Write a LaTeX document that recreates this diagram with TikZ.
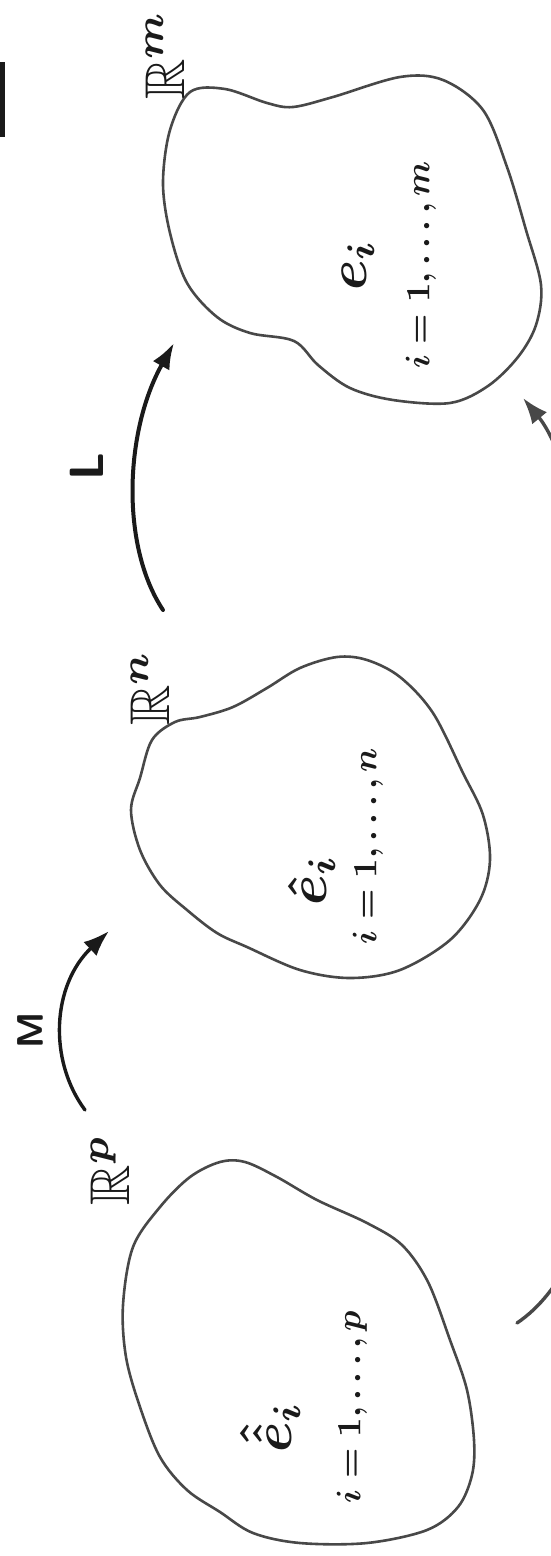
\documentclass[tikz,border=0pt]{standalone}
\usepackage{amsmath,amssymb}
\usetikzlibrary{arrows.meta}
\definecolor{blobgray}{HTML}{484848}
\definecolor{ink}{HTML}{1A1A1A}
\tikzset{
  blob/.style={draw=blobgray, line width=2.6pt},
  maparrow/.style={draw=ink, line width=4pt, line cap=round, -{Latex[length=26pt,width=19pt]}},
  lbl/.style={rotate=90, text=ink, inner sep=0pt, font=\boldmath},
}
\begin{document}
\begin{tikzpicture}[x=1pt,y=-1pt]
\useasboundingbox (0,0) rectangle (551,1556);
\clip (0,0) rectangle (551,1556);
\fill[white] (0,0) rectangle (551,1556);

% fragment at the left edge
\draw[ink, line width=5pt] (2,62) -- (2,137);

% blob R^m
\draw[blob] plot[smooth cycle, tension=0.55] coordinates {
 (190,92) (225,89) (267,103) (293,107) (333,97) (400,77) (443,80) (483,110)
 (507,167) (526,230) (541,285) (536,325) (518,357) (488,386) (450,403)
 (393,400) (350,388) (318,365) (294,341) (250,333) (217,317) (187,283)
 (170,233) (163,183) (170,130)};
% blob R^n
\draw[blob] plot[smooth cycle, tension=0.55] coordinates {
 (140,778) (152,740) (175,722) (200,717) (233,707) (267,688) (300,668)
 (337,657) (367,660) (400,677) (433,713) (463,773) (483,815) (490,860)
 (480,900) (450,940) (400,970) (350,978) (300,970) (247,947)
 (217,933) (187,910) (160,885) (140,850) (131,810)};
% blob R^p
\draw[blob] plot[smooth cycle, tension=0.55] coordinates {
 (133,1247) (160,1207) (190,1177) (220,1162) (245,1162) (277,1177) (317,1200)
 (367,1223) (402,1245) (428,1282) (450,1340) (467,1390) (474,1440) (472,1475)
 (458,1507) (427,1530) (367,1543) (300,1543) (253,1533) (220,1512)
 (187,1490) (160,1457) (140,1407) (126,1357) (123,1305)};

% labels of the spaces
\node[lbl, scale=5.6] (Rm) at (165,55) {$\mathbb{R}^m$};
\node[lbl, scale=5.6] (Rn) at (150,688) {$\mathbb{R}^n$};
\node[lbl, scale=5.6] (Rp) at (110,1170) {$\mathbb{R}^p$};

% bases
\node[lbl, scale=5.5] (em) at (358,265) {$e_i$};
\node[lbl, scale=3.4] (im) at (421,265) {$i=1,\dots,m$};
\node[lbl, scale=5.5] (en) at (312,880) {$\hat{e}_i$};
\node[lbl, scale=3.4] (in) at (368,846) {$i=1,\dots,n$};
\node[lbl, scale=5.5] (ep) at (270,1427) {$\hat{\hat{e}}_i$};
\node[lbl, scale=3.4] (ip) at (352,1407) {$i=1,\dots,p$};

% maps
\coordinate (Lstart) at (163,610);
\coordinate (Lend) at (174,343);
\draw[maparrow] (Lstart) .. controls (120,545) and (125,430) .. (Lend);
\node[lbl, scale=4.8] (Llbl) at (87,467) {$\mathsf{L}$};

\coordinate (Mstart) at (85,1110);
\coordinate (Mend) at (109,931);
\draw[maparrow, line width=3.4pt] (Mstart) .. controls (48,1060) and (52,985) .. (Mend);
\node[lbl, scale=3.7] (Mlbl) at (30,1030) {$\mathsf{M}$};

\coordinate (Cstart) at (517,1323);
\coordinate (Cend) at (523,398);
\draw[maparrow, draw=blobgray, line width=3.4pt] (Cstart) .. controls (700,1200) and (615,510) .. (Cend);
\end{tikzpicture}
\end{document}
